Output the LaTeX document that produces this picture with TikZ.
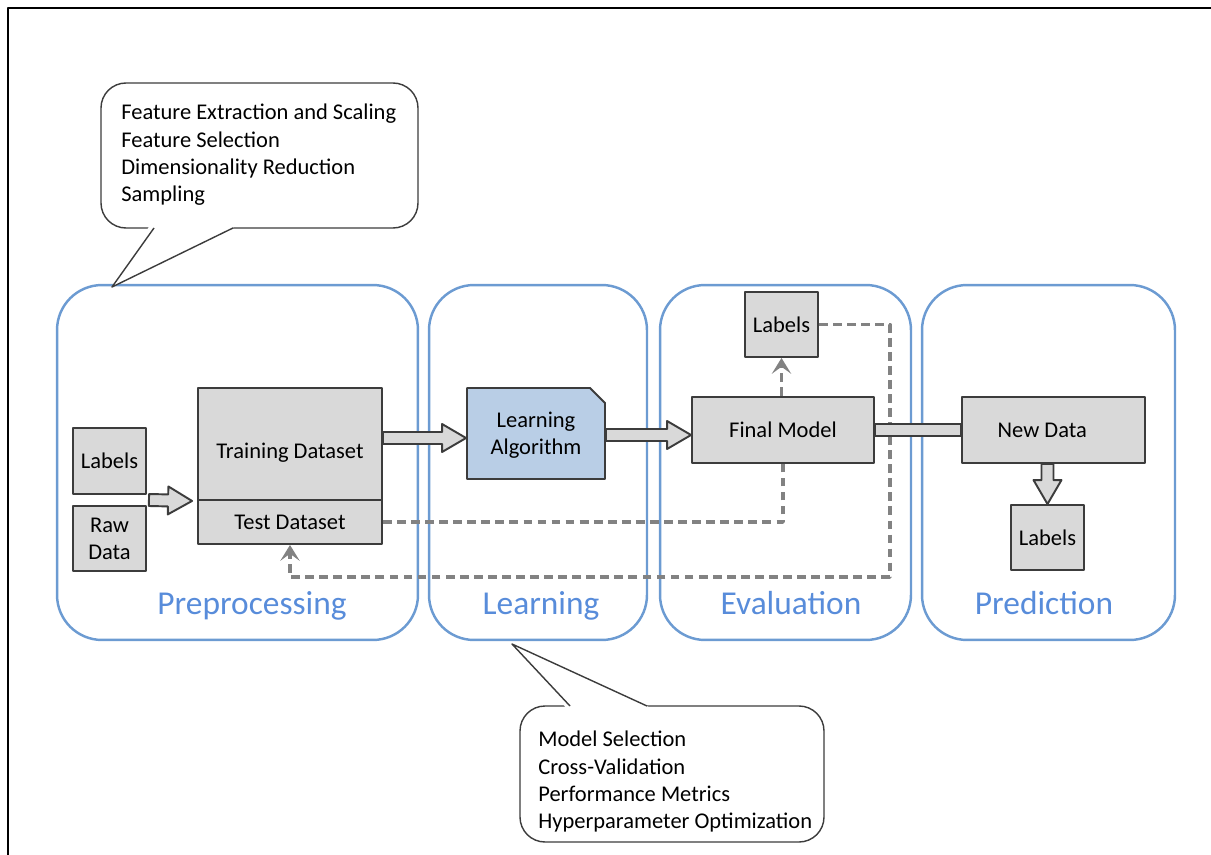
\documentclass[tikz,border=0pt]{standalone}
\usepackage{fontspec}
\setmainfont{Carlito}
\usetikzlibrary{calc,arrows.meta}
\definecolor{stageblue}{RGB}{108,155,210}
\definecolor{stagetext}{RGB}{88,140,218}
\definecolor{boxgray}{RGB}{217,217,217}
\definecolor{boxline}{RGB}{60,60,60}
\definecolor{algoblue}{RGB}{185,206,230}
\definecolor{dashgray}{RGB}{130,130,130}
% wide outlined arrow from #1 to #2
\newcommand{\hollowarrow}[2]{%
  \coordinate (hb) at ($(#2)!0.48cm!(#1)$);
  \draw[hollow] ($(#1)!0.12cm!90:(#2)$) -- ($(hb)!0.12cm!90:(#2)$) -- ($(hb)!0.28cm!90:(#2)$) -- (#2)
    -- ($(hb)!0.28cm!-90:(#2)$) -- ($(hb)!0.12cm!-90:(#2)$) -- ($(#1)!0.12cm!-90:(#2)$) -- cycle;}

\begin{document}
\begin{tikzpicture}[x=0.02cm, y=-0.02cm, line join=round,
    stage/.style={draw=stageblue, line width=1.4pt, rounded corners=0.9cm},
    stagename/.style={text=stagetext, font=\fontsize{19}{22}\selectfont, anchor=base, inner sep=0pt},
    box/.style={draw=boxline, fill=boxgray, line width=1.1pt, font=\fontsize{12.8}{15.4}\selectfont, align=center, inner sep=0pt},
    hollow/.style={draw=boxline, fill=boxgray, line width=1.1pt},
    dashline/.style={draw=dashgray, line width=2.1pt, dash pattern=on 5pt off 3pt},
    tip/.style={-{Stealth[length=9pt, width=11pt, inset=4pt]}},
    note/.style={draw=boxline, fill=white, line width=0.8pt},
    notetext/.style={font=\fontsize{12.8}{15.4}\selectfont, align=left, anchor=north west, inner sep=0pt}]
  \useasboundingbox (0,0) rectangle (1211,855);
  % frame of the screenshot
  \draw[line width=1.1pt] (8,855) -- (8,8) -- (1211,8);

  % four stages
  \node[stage, minimum width=7.22cm, minimum height=7.1cm] (pre) at (237.5,462.5) {};
  \node[stage, minimum width=4.36cm, minimum height=7.1cm] (learn) at (538,462.5) {};
  \node[stage, minimum width=5.02cm, minimum height=7.1cm] (eval) at (785.5,462.5) {};
  \node[stage, minimum width=5.06cm, minimum height=7.1cm] (pred) at (1048.5,462.5) {};
  \node[stagename] (preName) at (252,614) {Preprocessing};
  \node[stagename] (learnName) at (541,614) {Learning};
  \node[stagename] (evalName) at (791,614) {Evaluation};
  \node[stagename] (predName) at (1044,614) {Prediction};

  % callout notes
  \draw[note, rounded corners=0.5cm] (101,83) rectangle (418,228);
  \fill[white] (150,225) -- (112,287) -- (238,225) -- cycle;
  \draw[note] (154,228) -- (112,287) -- (233,228);
  \draw[note, rounded corners=0.5cm] (520,706) rectangle (824,842);
  \fill[white] (567,709) -- (512,644) -- (653,709) -- cycle;
  \draw[note] (570,706) -- (512,644) -- (647,706);
  \node[notetext] (prenote) at (121,104) {Feature Extraction and Scaling\\Feature Selection\\Dimensionality Reduction\\Sampling};
  \node[notetext] (learnnote) at (538,731) {Model Selection\\Cross-Validation\\Performance Metrics\\Hyperparameter Optimization};

  % data boxes
  \node[box, minimum width=1.46cm, minimum height=1.32cm] (lab1) at (109.5,461) {Labels};
  \node[box, minimum width=1.46cm, minimum height=1.30cm] (raw) at (109.5,538.5) {Raw\\Data};
  \node[box, minimum width=3.68cm, minimum height=2.24cm, text height=0.64cm] (train) at (290,444) {Training Dataset};
  \node[box, minimum width=3.68cm, minimum height=0.88cm] (test) at (290,522) {Test Dataset};
  \draw[hollow, fill=algoblue] (467,388) -- (590,388) -- (605,403) -- (605,479) -- (467,479) -- cycle;
  \node[box, draw=none, fill=none, minimum width=2.76cm, minimum height=1.82cm] (algo) at (536,435) {Learning\\Algorithm};
  \node[box, minimum width=3.64cm, minimum height=1.32cm] (final) at (783,430) {Final Model};
  \node[box, minimum width=1.46cm, minimum height=1.30cm] (lab2) at (781.5,324.5) {Labels};
  \node[box, minimum width=3.66cm, minimum height=1.32cm] (newd) at (1053.5,430) {New Data\hspace{0.45cm}};
  \node[box, minimum width=1.46cm, minimum height=1.30cm] (lab3) at (1047.5,537.5) {Labels};

  % dashed feedback
  \coordinate (back) at (890,577);
  \draw[dashline] (test.east) -| (final.south);
  \draw[dashline, tip] (lab2.south |- final.north) -- (lab2.south);
  \draw[dashline, tip] (lab2.east) -| (back) -| (test.south);

  % wide arrows
  \coordinate (in1) at ($(lab1.south east)!0.5!(raw.north east)+(2,0)$);
  \coordinate (in2) at ([xshift=-0.1cm]train.south west);
  \hollowarrow{in1}{in2}
  \coordinate (tr1) at ([yshift=0.12cm]train.east);
  \coordinate (tr2) at (algo.west |- tr1);
  \hollowarrow{tr1}{tr2}
  \coordinate (al1) at (algo.east);
  \coordinate (al2) at (final.west |- al1);
  \hollowarrow{al1}{al2}
  \draw[hollow] ([yshift=0.12cm]final.east) rectangle ([yshift=-0.12cm]newd.west);
  \coordinate (nd1) at (newd.south -| lab3.north);
  \hollowarrow{nd1}{lab3.north}
\end{tikzpicture}
\end{document}
